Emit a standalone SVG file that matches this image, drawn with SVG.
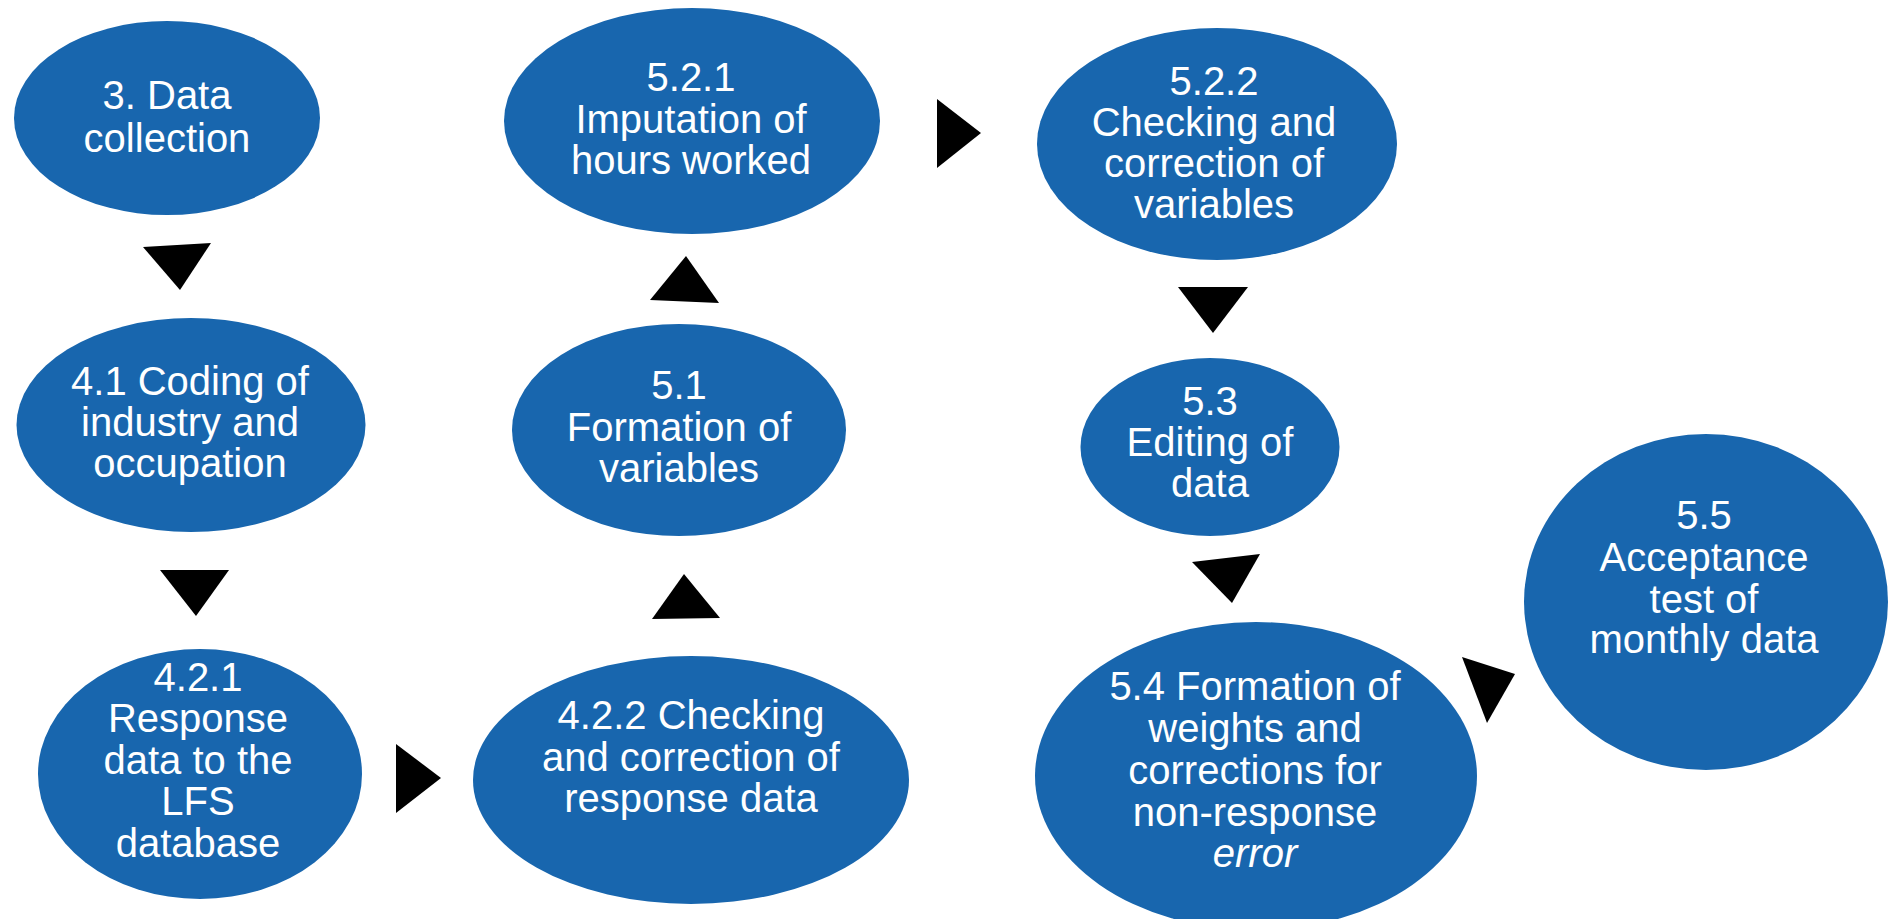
<svg xmlns="http://www.w3.org/2000/svg" width="1890" height="919" viewBox="0 0 1890 919">
<style>
.n{fill:#1866AE;}
.t{font-family:"Liberation Sans",Arial,sans-serif;font-size:40px;fill:#ffffff;text-anchor:middle;}
.i{font-style:italic;}
.a{fill:#000000;}
</style>
<rect width="1890" height="919" fill="#ffffff"/>
<g id="n3">
<ellipse class="n" cx="167" cy="118" rx="153" ry="97"/>
<text class="t"><tspan x="167" y="109">3. Data</tspan><tspan x="167" y="152">collection</tspan></text>
</g>
<g id="n521">
<ellipse class="n" cx="692" cy="121" rx="188" ry="113"/>
<text class="t"><tspan x="691" y="91">5.2.1</tspan><tspan x="691" y="132.5">Imputation of</tspan><tspan x="691" y="174">hours worked</tspan></text>
</g>
<g id="n522">
<ellipse class="n" cx="1217" cy="144" rx="180" ry="116"/>
<text class="t"><tspan x="1214" y="95">5.2.2</tspan><tspan x="1214" y="136">Checking and</tspan><tspan x="1214" y="177">correction of</tspan><tspan x="1214" y="218">variables</tspan></text>
</g>
<g id="n41">
<ellipse class="n" cx="191" cy="425" rx="174.5" ry="107"/>
<text class="t"><tspan x="190" y="395">4.1 Coding of</tspan><tspan x="190" y="436">industry and</tspan><tspan x="190" y="477">occupation</tspan></text>
</g>
<g id="n51">
<ellipse class="n" cx="679" cy="430" rx="167" ry="106"/>
<text class="t"><tspan x="679" y="399">5.1</tspan><tspan x="679" y="440.5">Formation of</tspan><tspan x="679" y="482">variables</tspan></text>
</g>
<g id="n53">
<ellipse class="n" cx="1210" cy="447" rx="129.5" ry="89"/>
<text class="t"><tspan x="1210" y="415">5.3</tspan><tspan x="1210" y="456">Editing of</tspan><tspan x="1210" y="497">data</tspan></text>
</g>
<g id="n55">
<ellipse class="n" cx="1706" cy="602" rx="182" ry="168"/>
<text class="t"><tspan x="1704" y="529">5.5</tspan><tspan x="1704" y="570.5">Acceptance</tspan><tspan x="1704" y="612.5">test of</tspan><tspan x="1704" y="653">monthly data</tspan></text>
</g>
<g id="n421">
<ellipse class="n" cx="200" cy="774" rx="162" ry="125"/>
<text class="t"><tspan x="198" y="691">4.2.1</tspan><tspan x="198" y="732">Response</tspan><tspan x="198" y="774">data to the</tspan><tspan x="198" y="815">LFS</tspan><tspan x="198" y="857">database</tspan></text>
</g>
<g id="n422">
<ellipse class="n" cx="691" cy="780" rx="218" ry="124"/>
<text class="t"><tspan x="691" y="729">4.2.2 Checking</tspan><tspan x="691" y="771">and correction of</tspan><tspan x="691" y="812">response data</tspan></text>
</g>
<g id="n54">
<ellipse class="n" cx="1256" cy="776" rx="221" ry="154"/>
<text class="t"><tspan x="1255" y="700">5.4 Formation of</tspan><tspan x="1255" y="742">weights and</tspan><tspan x="1255" y="784">corrections for</tspan><tspan x="1255" y="826">non-response</tspan><tspan x="1255" y="867" class="i">error</tspan></text>
</g>
<g id="connectors">
<polygon class="a" points="143,247 211,243 180,290"/>
<polygon class="a" points="160,570 229,570 196,616"/>
<polygon class="a" points="396,744 396,813 441,778"/>
<polygon class="a" points="652,619 720,618 684,574"/>
<polygon class="a" points="650,300 719,303 686,256"/>
<polygon class="a" points="937,99 937,168 981,133"/>
<polygon class="a" points="1178,287 1248,287 1213,333"/>
<polygon class="a" points="1192,562 1260,554 1232,603"/>
<polygon class="a" points="1462,657 1487,723 1515,674"/>
</g>
</svg>
